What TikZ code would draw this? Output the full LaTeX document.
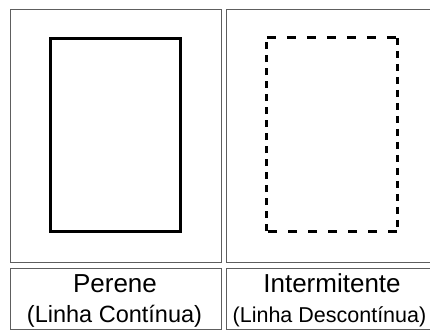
\documentclass[tikz,border=0pt]{standalone}
\usepackage{fontspec}
\setmainfont{Liberation Sans}
\usetikzlibrary{positioning}
\definecolor{cellline}{HTML}{5E5E5E}
\tikzset{
  cell/.style={draw=cellline, line width=1.4pt, anchor=north west, inner sep=0pt},
  topcell/.style={cell, minimum width=211pt, minimum height=253pt},
  labelcell/.style={cell, minimum width=211pt, minimum height=61pt},
  river/.style={inner sep=0pt, minimum width=130pt, minimum height=193pt},
  hdash/.style={line width=3pt, dash pattern=on 9pt off 11pt},
  vdash/.style={line width=3pt, dash pattern=on 7pt off 6pt},
  title/.style={anchor=base, font=\fontsize{26}{30}\selectfont},
  subtitle/.style={anchor=base, font=\fontsize{23.5}{28}\selectfont}
}
\begin{document}
\begin{tikzpicture}[x=1pt, y=-1pt]
  \useasboundingbox (0,0) rectangle (430,331);
  \clip (0,0) rectangle (430,331);

  % cells of the table
  \node[topcell] (cellA) at (10,9) {};
  \node[topcell] (cellB) at (226,9) {};
  \node[labelcell] (labA) at (10,268) {};
  \node[labelcell] (labB) at (226,268) {};

  % perene: solid outline
  \node[river, draw, line width=3pt] (perene) at (115,135) {};

  % intermitente: dashed outline
  \node[river] (interm) at (332,134.5) {};
  \draw[hdash] (interm.north west) -- (interm.north east);
  \draw[vdash] (interm.north east) -- (interm.south east);
  \draw[hdash] (interm.south east) -- (interm.south west);
  \draw[vdash] (interm.south west) -- (interm.north west);

  % labels
  \node[title] (tA) at (115,292) {Perene};
  \node[subtitle] (sA) at (114.5,322) {(Linha Contínua)};
  \node[title] (tB) at (332,292) {Intermitente};
  \node[subtitle, font=\fontsize{21.5}{28}\selectfont] (sB) at (329.5,322) {(Linha Descontínua)};
\end{tikzpicture}
\end{document}
